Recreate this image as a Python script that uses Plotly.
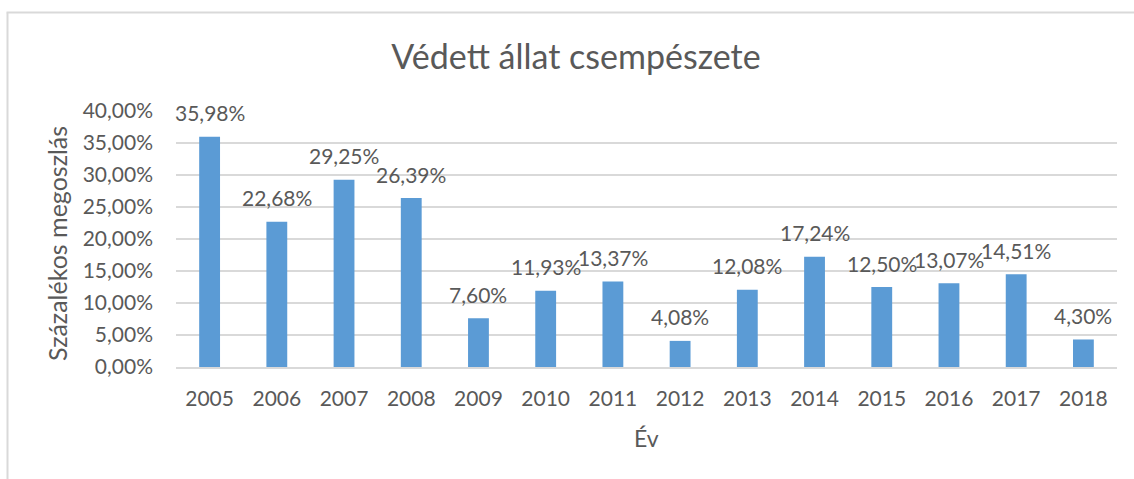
import plotly.graph_objects as go

# Évek és a védett állat csempészet százalékos megoszlása
years = ["2005", "2006", "2007", "2008", "2009", "2010", "2011",
         "2012", "2013", "2014", "2015", "2016", "2017", "2018"]
shares = [35.98, 22.68, 29.25, 26.39, 7.60, 11.93, 13.37,
          4.08, 12.08, 17.24, 12.50, 13.07, 14.51, 4.30]
y_ticks = [0, 5, 10, 15, 20, 25, 30, 35, 40]


def pct(v):
    return f"{v:.2f}%".replace(".", ",")


FONT = "Lato"
TEXT = "#595959"
GRID = "#D9D9D9"
BAR = "#5B9BD5"

W, H = 1134, 479
L, R, T, B = 176, 17, 111, 112
pw, ph = W - L - R, H - T - B


def px_x(x):
    return (x - L) / pw


def px_y(y):
    return (H - B - y) / ph


fig = go.Figure(
    go.Bar(x=years, y=shares, marker=dict(color=BAR, line=dict(width=0)),
           hoverinfo="x+y")
)

# Adatcímkék az oszlopok fölött (kategóriaindex szerint)
for i, v in enumerate(shares):
    fig.add_annotation(x=i, y=v, text=pct(v),
                       showarrow=False, yanchor="middle", yshift=24,
                       font=dict(family=FONT, size=21, color=TEXT))

# Tengelycímek
fig.add_annotation(xref="paper", yref="paper", x=px_x(57), y=px_y(243),
                   text="Százalékos megoszlás", textangle=-90, showarrow=False,
                   xanchor="center", yanchor="middle",
                   font=dict(family=FONT, size=25, color=TEXT))
fig.add_annotation(xref="paper", yref="paper", x=0.5, y=px_y(438),
                   text="Év", showarrow=False, xanchor="center", yanchor="middle",
                   font=dict(family=FONT, size=23, color=TEXT))

# Diagramterület kerete (bal és felső él)
fig.add_shape(type="line", xref="paper", yref="paper",
              x0=px_x(7.5), x1=px_x(7.5), y0=px_y(12.5), y1=px_y(H + 5),
              line=dict(color="#D9D9D9", width=2))
fig.add_shape(type="line", xref="paper", yref="paper",
              x0=px_x(6.5), x1=px_x(W + 5), y0=px_y(12.5), y1=px_y(12.5),
              line=dict(color="#D9D9D9", width=2))

fig.update_layout(
    width=W, height=H,
    margin=dict(l=L, r=R, t=T, b=B),
    paper_bgcolor="white", plot_bgcolor="white",
    bargap=0.69,
    showlegend=False,
    title=dict(text="Védett állat csempészete", x=px_x(576), xref="paper",
               y=1 - 57 / H, yanchor="middle", xanchor="center",
               font=dict(family=FONT, size=34, color=TEXT)),
    font=dict(family=FONT, color=TEXT),
)

fig.update_xaxes(type="category", range=[-0.5, len(years) - 0.5],
                 showgrid=False, showline=True,
                 linecolor=GRID, linewidth=1.5, ticks="",
                 ticklabelstandoff=12,
                 tickfont=dict(family=FONT, size=21, color=TEXT))
fig.update_yaxes(range=[0, 40], tickvals=y_ticks,
                 ticktext=[pct(t) for t in y_ticks],
                 showgrid=True, gridcolor=GRID, gridwidth=1.5,
                 zeroline=False, showline=False, ticks="",
                 ticklabelstandoff=22,
                 tickfont=dict(family=FONT, size=21, color=TEXT))

fig.write_html("out.html")
